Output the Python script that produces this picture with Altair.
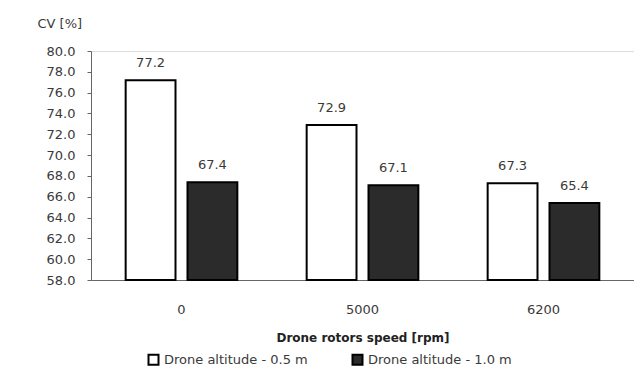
import altair as alt
import pandas as pd

# Coefficient of variation by rotor speed and drone altitude
speeds = ["0", "5000", "6200"]
series = ["Drone altitude - 0.5 m", "Drone altitude - 1.0 m"]
cv_low = [77.2, 72.9, 67.3]
cv_high = [67.4, 67.1, 65.4]
y_ticks = [58.0, 60.0, 62.0, 64.0, 66.0, 68.0, 70.0, 72.0, 74.0, 76.0, 78.0, 80.0]
y_base = 58.0

rows = []
for s, a, b in zip(speeds, cv_low, cv_high):
    rows.append({"speed": s, "series": series[0], "cv": a})
    rows.append({"speed": s, "series": series[1], "cv": b})
df = pd.DataFrame(rows)

FONT = "DejaVu Sans"
TEXT = "#3a3a3a"

x_enc = alt.X(
    "speed:N",
    sort=speeds,
    scale=alt.Scale(paddingInner=0.383, paddingOuter=0.1915),
    axis=alt.Axis(
        title="Drone rotors speed [rpm]",
        labelAngle=0,
        ticks=False,
        labelPadding=23,
        labelFontSize=13,
        labelColor=TEXT,
        titleFontSize=12,
        titleFontWeight="bold",
        titleColor="#222222",
        titleY=57,
        titleBaseline="middle",
        domainColor="#666666",
        grid=False,
    ),
)
xoff = alt.XOffset("series:N", sort=series, scale=alt.Scale(paddingInner=0.194, paddingOuter=0))

y_enc = alt.Y(
    "cv:Q",
    scale=alt.Scale(domain=[58, 80], zero=False, nice=False),
    axis=alt.Axis(
        title="CV [%]",
        values=y_ticks,
        tickCount=12,
        format=".1f",
        labelOverlap=False,
        titleAngle=0,
        titleAlign="left",
        titleBaseline="middle",
        titleX=-54,
        titleY=-28,
        titleFontSize=13,
        titleFontWeight="normal",
        titleColor=TEXT,
        labelFontSize=13,
        labelColor=TEXT,
        tickSize=4,
        tickColor="#666666",
        domainColor="#666666",
        labelPadding=12,
        grid=False,
    ),
)

bars = alt.Chart(df).mark_bar(stroke="black", strokeWidth=2).encode(
    x=x_enc,
    xOffset=xoff,
    y=y_enc,
    y2=alt.datum(y_base),
    fill=alt.Fill(
        "series:N",
        sort=series,
        scale=alt.Scale(domain=series, range=["#ffffff", "#2b2b2b"]),
        legend=alt.Legend(
            title=None,
            orient="none",
            direction="horizontal",
            legendX=56,
            legendY=302,
            symbolType="square",
            symbolSize=100,
            symbolStrokeColor="black",
            symbolStrokeWidth=2,
            labelFontSize=13,
            labelColor=TEXT,
            labelLimit=300,
            columnPadding=40,
            labelOffset=4,
        ),
    ),
)

labels = alt.Chart(df).mark_text(dy=-10, baseline="bottom", fontSize=13, color=TEXT, font=FONT).encode(
    x=x_enc,
    xOffset=xoff,
    y=y_enc,
    text=alt.Text("cv:Q", format=".1f"),
)

chart = (
    alt.layer(bars, labels)
    .properties(
        width=543,
        height=229,
        autosize=alt.AutoSizeParams(type="none"),
        padding={"left": 91, "top": 51, "right": 0, "bottom": 92},
        background="white",
    )
    .configure_view(stroke="transparent", strokeWidth=0)
    .configure(font=FONT)
)

chart.save("out.html", embed_options={"renderer": "svg", "actions": False})
